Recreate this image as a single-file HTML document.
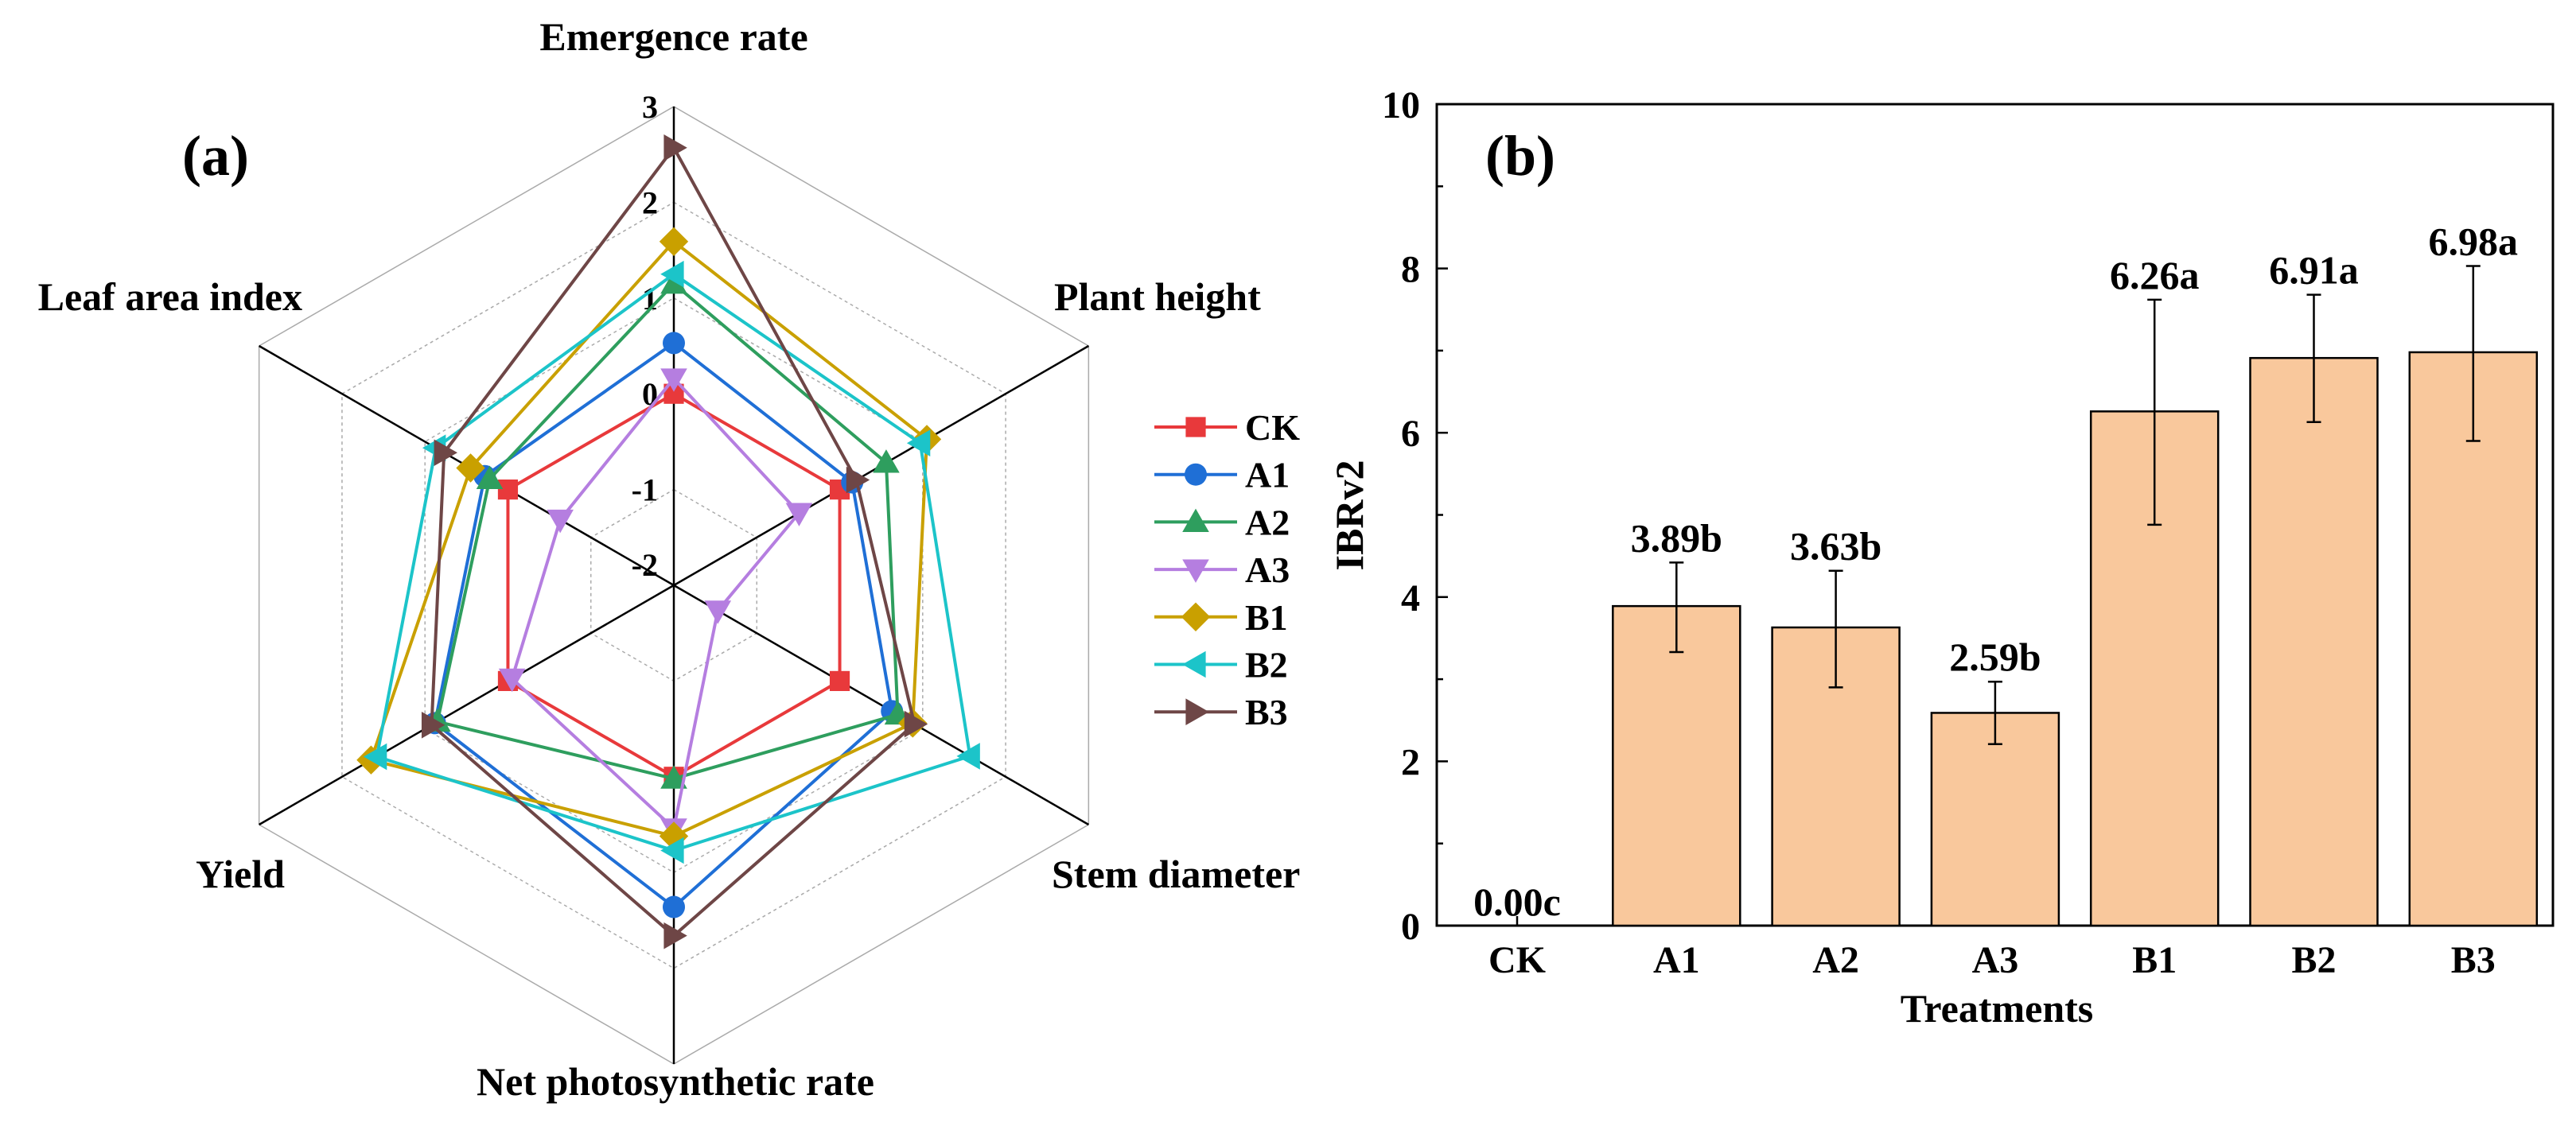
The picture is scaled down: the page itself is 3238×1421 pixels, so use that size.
<!DOCTYPE html>
<html><head><meta charset="utf-8"><style>
html,body{margin:0;padding:0;background:#fff;}
svg{display:block;font-family:"Liberation Serif",serif;font-weight:bold;}
</style></head><body>
<svg id="fig" width="3238" height="1421" viewBox="0 0 3238 1421" xmlns="http://www.w3.org/2000/svg">
<g id="radar"></g>
<g id="bars"></g>
</svg>
<script>
const axisNames=["Emergence rate","Plant height","Stem diameter","Net photosynthetic rate","Yield","Leaf area index"];
const seriesNames=["CK","A1","A2","A3","B1","B2","B3"];
const vCK=[0.0,0.0,0.0,0.0,0.0,0.0];
const vA1=[0.53,0.15,0.63,1.36,0.88,0.28];
const vA2=[1.15,0.56,0.7,0.02,0.85,0.22];
const vA3=[0.16,-0.49,-1.47,0.54,-0.05,-0.63];
const vB1=[1.59,1.05,0.88,0.62,1.65,0.45];
const vB2=[1.25,0.97,1.57,0.77,1.58,0.87];
const vB3=[2.57,0.2,0.9,1.66,0.92,0.77];
const radarTicks=[-2,-1,0,1,2,3];
const categories=["CK","A1","A2","A3","B1","B2","B3"];
const ibr=[0.00,3.89,3.63,2.59,6.26,6.91,6.98];
const errHi=[0,4.42,4.32,2.97,7.62,7.68,8.03];
const errLo=[0,3.33,2.90,2.21,4.88,6.13,5.90];
const barLabels=["0.00c","3.89b","3.63b","2.59b","6.26a","6.91a","6.98a"];
const yTicks=[0,2,4,6,8,10];

const NS="http://www.w3.org/2000/svg";
function mk(tag,attrs,parent,text){const e=document.createElementNS(NS,tag);for(const k in attrs)e.setAttribute(k,attrs[k]);if(text!==undefined)e.textContent=text;parent.appendChild(e);return e;}

// ---------- Radar ----------
const R=document.getElementById('radar');
const cx=847,cy=736,rMax=602,vMin=-2,vMax=3;
const angles=[90,30,-30,-90,-150,150];
function rad(v){return rMax*(v-vMin)/(vMax-vMin);}
function pt(i,v){const a=angles[i]*Math.PI/180;const r=rad(v);return [cx+r*Math.cos(a),cy-r*Math.sin(a)];}
radarTicks.forEach(t=>{if(t===vMin)return;
  const pts=angles.map((a,i)=>pt(i,t).join(',')).join(' ');
  const ring=mk('polygon',{points:pts,fill:'none',stroke:'#aaa','stroke-width':1.5,'stroke-dasharray':t===vMax?'none':'4,4'},R);
  
  
});
angles.forEach((a,i)=>{const p=pt(i,vMax);
  const l=mk('line',{x1:cx,y1:cy,x2:p[0],y2:p[1],stroke:'#000','stroke-width':2.5},R);
  
  
});
radarTicks.forEach(t=>{const p=pt(0,t);
  const tx=mk('text',{x:cx-20,y:p[1]+(t===vMin?-12:14),'text-anchor':'end','font-size':40},R,String(t));
  
  
});
const axLab=[[847,63,'middle'],[1325,390,'start'],[1322,1116,'start'],[849,1377,'middle'],[358,1116,'end'],[380,390,'end']];
axisNames.forEach((n,i)=>{
  const tx=mk('text',{x:axLab[i][0],y:axLab[i][1],'text-anchor':axLab[i][2],'font-size':50},R,n);
  
  
});
const pa=mk('text',{x:271,y:220,'text-anchor':'middle','font-size':72},R,'(a)');



const colors=['#e8393b','#1f6fd6','#2e9e5e','#b57ee0','#c9a000','#1cc4c9','#6e4646'];
const shapes=['square','circle','up','down','diamond','left','right'];
const allVals=[vCK,vA1,vA2,vA3,vB1,vB2,vB3];
function marker(g,x,y,shape,color,s){
  let e;
  if(shape==='square')e=mk('rect',{x:x-s*0.45,y:y-s*0.45,width:s*0.9,height:s*0.9,fill:color},g);
  else if(shape==='circle')e=mk('circle',{cx:x,cy:y,r:s*0.5,fill:color},g);
  else{let p;
    if(shape==='up')p=[[x,y-s*0.6],[x-s*0.6,y+s*0.45],[x+s*0.6,y+s*0.45]];
    if(shape==='down')p=[[x,y+s*0.6],[x-s*0.6,y-s*0.45],[x+s*0.6,y-s*0.45]];
    if(shape==='left')p=[[x-s*0.6,y],[x+s*0.45,y-s*0.6],[x+s*0.45,y+s*0.6]];
    if(shape==='right')p=[[x+s*0.6,y],[x-s*0.45,y-s*0.6],[x-s*0.45,y+s*0.6]];
    if(shape==='diamond')p=[[x,y-s*0.65],[x+s*0.65,y],[x,y+s*0.65],[x-s*0.65,y]];
    e=mk('polygon',{points:p.map(q=>q.join(',')).join(' '),fill:color},g);}
  return e;
}
allVals.forEach((vals,si)=>{
  const g=mk('g',{},R);
  
  
  const pts=vals.map((v,i)=>pt(i,v));
  const poly=mk('polygon',{points:pts.map(p=>p.join(',')).join(' '),fill:'none',stroke:colors[si],'stroke-width':4},g);
  
  
  pts.forEach(p=>{const m=marker(g,p[0],p[1],shapes[si],colors[si],28);
    
    });
});
// legend
seriesNames.forEach((n,si)=>{
  const y=537+si*59.7;
  const g=mk('g',{},R);
  
  
  mk('line',{x1:1451,y1:y,x2:1555,y2:y,stroke:colors[si],'stroke-width':4},g);
  marker(g,1503,y,shapes[si],colors[si],28);
  mk('text',{x:1565,y:y+16,'font-size':46},g,n);
});

// ---------- Bars ----------
const B=document.getElementById('bars');
const bx0=1806,bx1=3209,by0=1164,by1=131,yMax=10;
function ys(v){return by0-(by0-by1)*v/yMax;}
function xs(i){return 1907+i*200.3;}
const frame=mk('rect',{x:bx0,y:by1,width:bx1-bx0,height:by0-by1,fill:'none',stroke:'#000','stroke-width':3},B);


for(let v=0;v<=yMax;v++){const y=ys(v);
  mk('line',{x1:bx0,y1:y,x2:bx0+(v%2===0?14:8),y2:y,stroke:'#000','stroke-width':2.5},B);}
yTicks.forEach(t=>{const tx=mk('text',{x:1785,y:ys(t)+17,'text-anchor':'end','font-size':48},B,String(t));
  
  });
categories.forEach((c,i)=>{
  const x=xs(i);
  mk('line',{x1:x,y1:by0,x2:x,y2:by0-12,stroke:'#000','stroke-width':2.5},B);
  const tx=mk('text',{x:x,y:1223,'text-anchor':'middle','font-size':48},B,c);
  
  
  if(ibr[i]>0){
    const r=mk('rect',{x:x-80,y:ys(ibr[i]),width:160,height:by0-ys(ibr[i]),fill:'#f9c89c',stroke:'#000','stroke-width':2.5},B);
    
    
    const eg=mk('g',{stroke:'#000','stroke-width':2.5},B);
    
    
    mk('line',{x1:x,y1:ys(errHi[i]),x2:x,y2:ys(errLo[i])},eg);
    mk('line',{x1:x-9,y1:ys(errHi[i]),x2:x+9,y2:ys(errHi[i])},eg);
    mk('line',{x1:x-9,y1:ys(errLo[i]),x2:x+9,y2:ys(errLo[i])},eg);
  }
  const top=ibr[i]>0?ys(errHi[i])-14:by0-13;
  const lb=mk('text',{x:x,y:top,'text-anchor':'middle','font-size':50},B,barLabels[i]);
  
  
});
const xt=mk('text',{x:2510,y:1285,'text-anchor':'middle','font-size':50},B,'Treatments');


const yt=mk('text',{x:0,y:0,'text-anchor':'middle','font-size':50,transform:'translate(1713,648) rotate(-90)'},B,'IBRv2');


const pb=mk('text',{x:1911,y:220,'text-anchor':'middle','font-size':72},B,'(b)');


</script>
</body></html>
